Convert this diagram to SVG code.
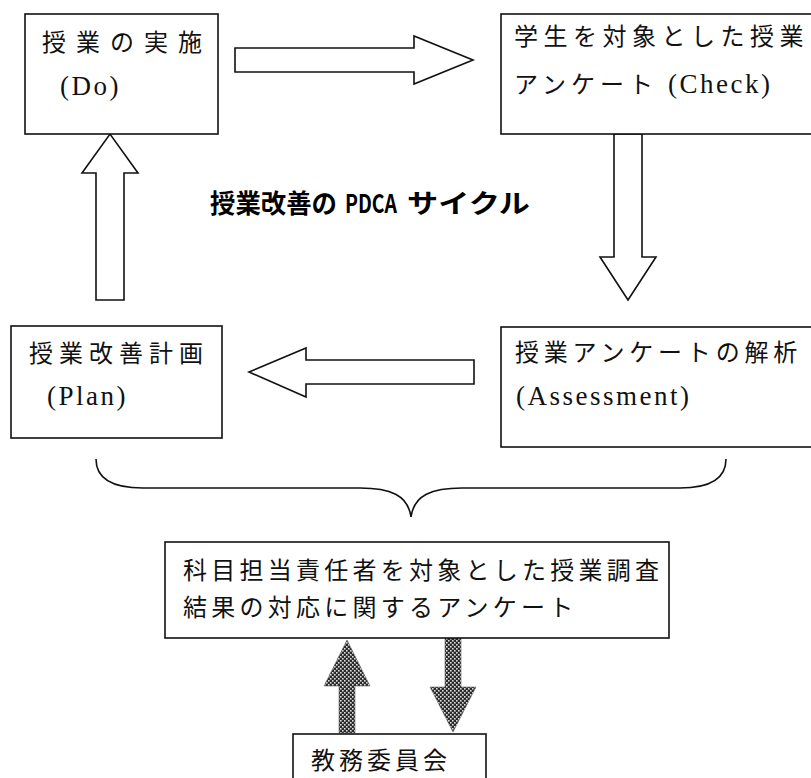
<svg xmlns="http://www.w3.org/2000/svg" width="811" height="778" viewBox="0 0 811 778">
<style>
.box{fill:#fff;stroke:#111;stroke-width:1.6}
.arr{fill:#fff;stroke:#111;stroke-width:1.6;stroke-linejoin:miter}
.hat{fill:url(#hatch);stroke:#666;stroke-width:0.6}
.jp{font-family:"Liberation Serif","Noto Sans CJK JP",serif;font-size:24px;fill:#111}
.lat{font-family:"Liberation Serif","Noto Sans CJK JP",serif;font-size:27px;fill:#111;letter-spacing:2.5px}
.title{font-family:"Noto Sans CJK JP",sans-serif;font-weight:bold;font-size:26px;fill:#000}
.brace{fill:none;stroke:#111;stroke-width:1.6}
</style>
<defs>
<pattern id="hatch" width="4" height="4" patternUnits="userSpaceOnUse">
<rect width="4" height="4" fill="#2a2a2a"/>
<rect x="0" y="0" width="1.6" height="1.6" fill="#e0e0e0"/>
<rect x="2" y="2" width="1.6" height="1.6" fill="#e0e0e0"/>
</pattern>
</defs>
<rect width="811" height="778" fill="#fff"/>

<g id="connectors">
<polygon class="arr" points="235,48 414,48 414,36 473,60 414,84 414,72 235,72"/>
<polygon class="arr" points="614,134 642,134 642,257 656,257 628,300 600,257 614,257"/>
<polygon class="arr" points="474,360 306,360 306,348 249,372 306,397 306,384 474,384"/>
<polygon class="arr" points="96,300 124,300 124,173 138,173 110,134 82,173 96,173"/>
<path class="brace" d="M96,459 C96,478 112,488 143,488 L360,488 C390,488 408,495 411,517 C414,495 432,488 462,488 L680,488 C712,488 726,478 726,459"/>
<polygon class="hat" points="339,733 355,733 355,686 370,686 347,640 324,686 339,686"/>
<polygon class="hat" points="445,638 461,638 461,687 476,687 453,732 430,687 445,687"/>
</g>

<g id="do">
<rect class="box" x="25" y="14" width="193" height="120"/>
<text class="jp" x="42" y="51" letter-spacing="10">授業の実施</text>
<text class="lat" x="60" y="95">(Do)</text>
</g>

<g id="check">
<rect class="box" x="501" y="14" width="330" height="120"/>
<text class="jp" x="514" y="45" letter-spacing="5.5">学生を対象とした授業</text>
<text class="jp" x="514" y="93" letter-spacing="5">アンケート<tspan class="lat" x="668">(Check)</tspan></text>
</g>

<g id="title">
<text class="title" y="213"><tspan x="210" textLength="127" lengthAdjust="spacingAndGlyphs">授業改善の</tspan><tspan x="345" textLength="52" lengthAdjust="spacingAndGlyphs">PDCA</tspan><tspan x="407" textLength="123" lengthAdjust="spacingAndGlyphs">サイクル</tspan></text>
</g>

<g id="plan">
<rect class="box" x="11" y="326" width="211" height="112"/>
<text class="jp" x="29" y="362" letter-spacing="6">授業改善計画</text>
<text class="lat" x="47" y="405">(Plan)</text>
</g>

<g id="assessment">
<rect class="box" x="501" y="327" width="330" height="120"/>
<text class="jp" x="515" y="361" letter-spacing="4.8">授業アンケートの解析</text>
<text class="lat" x="516" y="405">(Assessment)</text>
</g>

<g id="survey">
<rect class="box" x="165" y="542" width="504" height="96"/>
<text class="jp" x="183" y="579" letter-spacing="4.25">科目担当責任者を対象とした授業調査</text>
<text class="jp" x="183" y="616" letter-spacing="4.25">結果の対応に関するアンケート</text>
</g>

<g id="committee">
<rect class="box" x="293" y="734" width="193" height="70"/>
<text class="jp" x="311" y="769" letter-spacing="4">教務委員会</text>
</g>
</svg>
